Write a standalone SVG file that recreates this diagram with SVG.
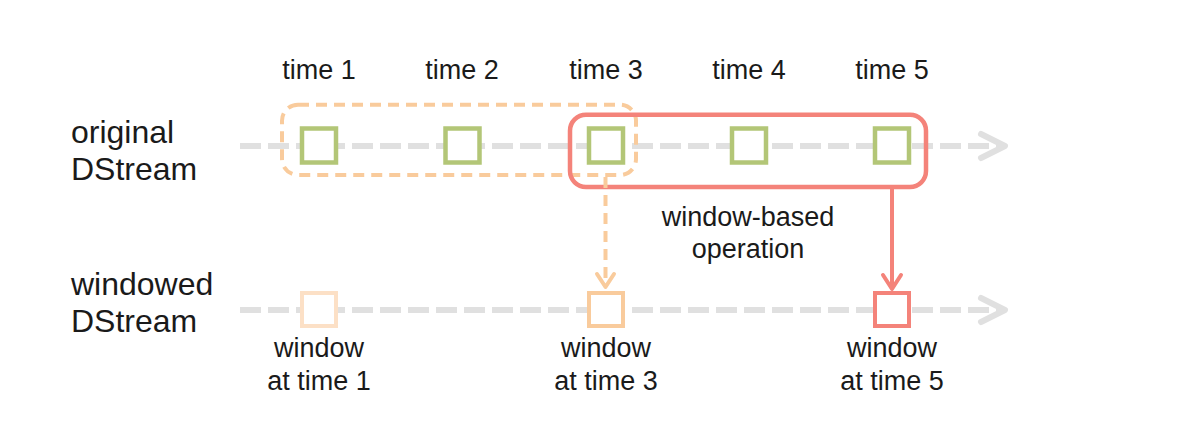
<svg xmlns="http://www.w3.org/2000/svg" width="1190" height="438" viewBox="0 0 1190 438">
<style>
text{font-family:"Liberation Sans",Arial,sans-serif;fill:#1a1a1a;text-anchor:middle}
.lbl{font-size:27px}
.side{font-size:32px;text-anchor:start}
.stream{fill:none;stroke:#e0e0e0;stroke-width:6;stroke-dasharray:21 7}
.head{fill:none;stroke:#e0e0e0;stroke-width:6;stroke-linecap:round;stroke-linejoin:round}
.green{fill:#fff;stroke:#b3c677;stroke-width:4.5}
.win{fill:#fff;stroke-width:4}
</style>
<rect width="1190" height="438" fill="#fff"/>
<g id="streams">
<line class="stream" x1="240" y1="146" x2="1002" y2="146"/>
<polyline class="head" points="981,134 1005,146 981,158"/>
<line class="stream" x1="240" y1="310" x2="1002" y2="310"/>
<polyline class="head" points="981,298 1005,310 981,322"/>
</g>
<g id="labels">
<text class="lbl" x="319" y="79">time 1</text>
<text class="lbl" x="462" y="79">time 2</text>
<text class="lbl" x="606" y="79">time 3</text>
<text class="lbl" x="749" y="79">time 4</text>
<text class="lbl" x="892" y="79">time 5</text>
<text class="side" x="71" y="143">original</text>
<text class="side" x="71" y="180">DStream</text>
<text class="side" x="71" y="295">windowed</text>
<text class="side" x="71" y="332">DStream</text>
</g>
<g id="window-prev">
<rect x="282" y="104.7" width="354" height="70.3" rx="16" fill="none" stroke="#f9cb9c" stroke-width="4" stroke-dasharray="11 7"/>
</g>
<g id="window-curr">
<rect x="570" y="114.7" width="356" height="72.3" rx="16" fill="none" stroke="#f4837a" stroke-width="4.5"/>
</g>
<g id="orig-1"><rect class="green" x="302" y="128.5" width="34" height="34"/></g>
<g id="orig-2"><rect class="green" x="445.5" y="128.5" width="34" height="34"/></g>
<g id="orig-3"><rect class="green" x="589" y="128.5" width="34" height="34"/></g>
<g id="orig-4"><rect class="green" x="732" y="128.5" width="34" height="34"/></g>
<g id="orig-5"><rect class="green" x="875" y="128.5" width="34" height="34"/></g>
<g id="connectors">
<line x1="605.5" y1="177" x2="605.5" y2="286" stroke="#f9cb9c" stroke-width="4" stroke-dasharray="11 7"/>
<polyline points="597,274 605.5,287 614,274" fill="none" stroke="#f9cb9c" stroke-width="4" stroke-linecap="round" stroke-linejoin="round"/>
<line x1="892" y1="189" x2="892" y2="287" stroke="#f4837a" stroke-width="4"/>
<polyline points="883,275 892,289 901,275" fill="none" stroke="#f4837a" stroke-width="4" stroke-linecap="round" stroke-linejoin="round"/>
</g>
<g id="win-1">
<rect class="win" x="302" y="293" width="34" height="33" stroke="#fce0c6"/>
<text class="lbl" x="319" y="357">window</text>
<text class="lbl" x="319" y="390">at time 1</text>
</g>
<g id="win-3">
<rect class="win" x="589" y="293" width="34" height="33" stroke="#f9cb9c"/>
<text class="lbl" x="606" y="357">window</text>
<text class="lbl" x="606" y="390">at time 3</text>
</g>
<g id="win-5">
<rect class="win" x="875" y="293" width="34" height="33" stroke="#f4837a"/>
<text class="lbl" x="892" y="357">window</text>
<text class="lbl" x="892" y="390">at time 5</text>
</g>
<g id="op-label">
<text class="lbl" x="748" y="226">window-based</text>
<text class="lbl" x="748" y="258">operation</text>
</g>
</svg>
